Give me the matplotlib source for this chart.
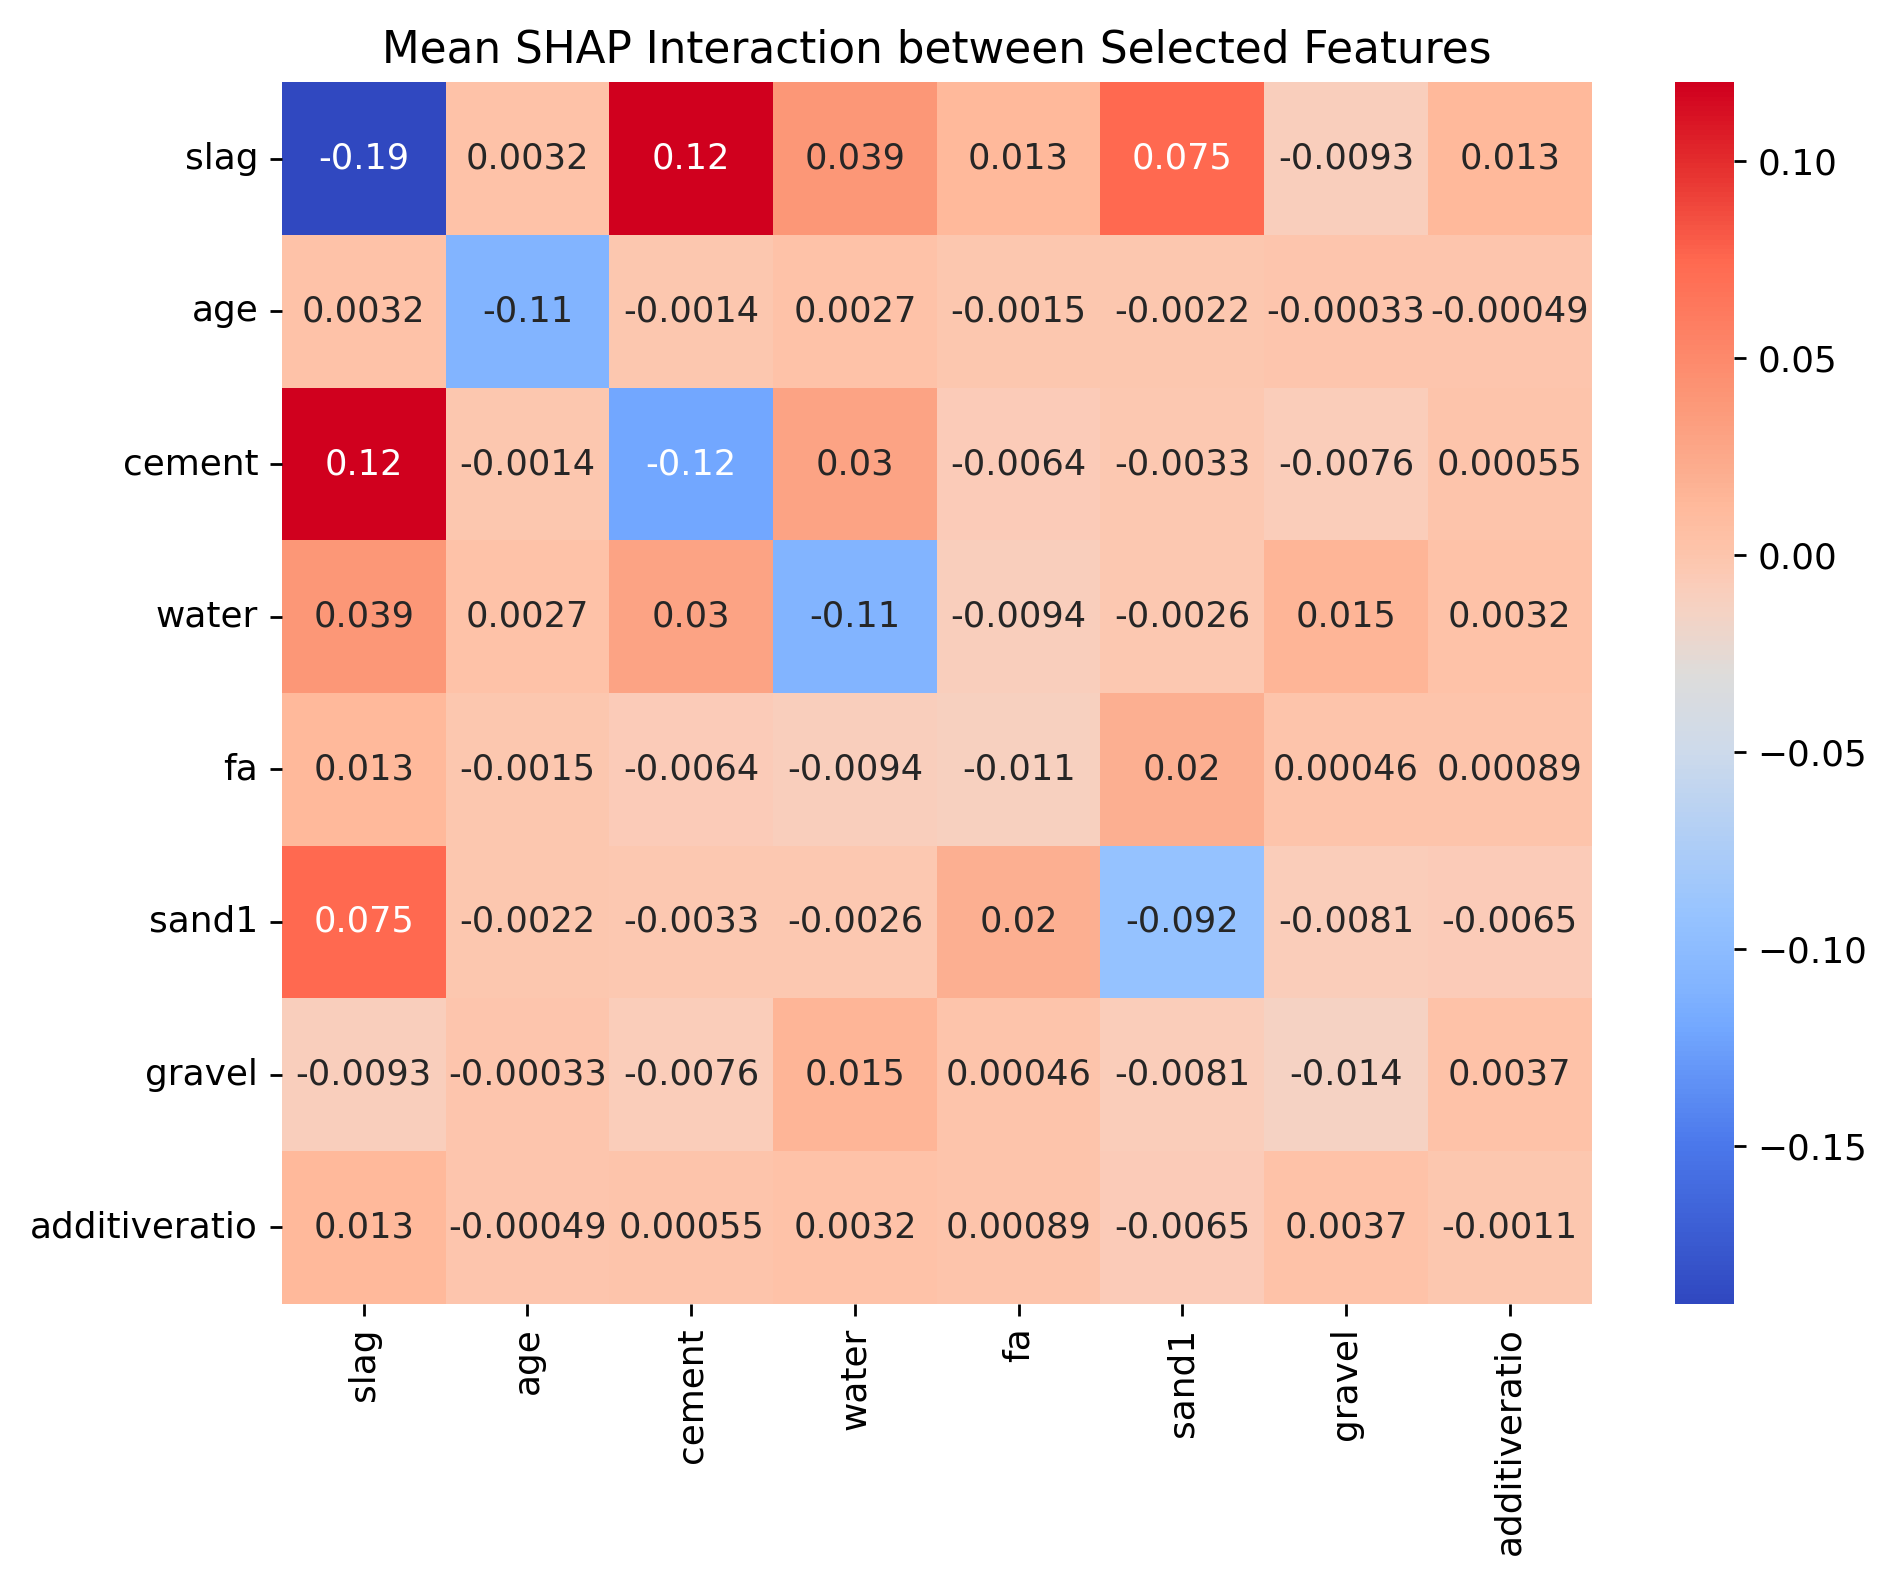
import matplotlib
matplotlib.use("Agg")
import matplotlib.pyplot as plt
from matplotlib.colors import LinearSegmentedColormap
import numpy as np
import pandas as pd
import seaborn as sns

features = ["slag", "age", "cement", "water", "fa", "sand1", "gravel", "additiveratio"]

slag = [-0.19, 0.0032, 0.12, 0.039, 0.013, 0.075, -0.0093, 0.013]
age = [0.0032, -0.11, -0.0014, 0.0027, -0.0015, -0.0022, -0.00033, -0.00049]
cement = [0.12, -0.0014, -0.12, 0.03, -0.0064, -0.0033, -0.0076, 0.00055]
water = [0.039, 0.0027, 0.03, -0.11, -0.0094, -0.0026, 0.015, 0.0032]
fa = [0.013, -0.0015, -0.0064, -0.0094, -0.011, 0.02, 0.00046, 0.00089]
sand1 = [0.075, -0.0022, -0.0033, -0.0026, 0.02, -0.092, -0.0081, -0.0065]
gravel = [-0.0093, -0.00033, -0.0076, 0.015, 0.00046, -0.0081, -0.014, 0.0037]
additiveratio = [0.013, -0.00049, 0.00055, 0.0032, 0.00089, -0.0065, 0.0037, -0.0011]

df = pd.DataFrame([slag, age, cement, water, fa, sand1, gravel, additiveratio],
                  index=features, columns=features)

# coolwarm-like map, but with the stronger colours seen in the picture
vmin, vmax = -0.19, 0.12
anchors = [
    (-0.19, (48, 72, 192)),
    (-0.15, (75, 120, 235)),
    (-0.12, (115, 168, 255)),
    (-0.11, (130, 180, 255)),
    (-0.092, (150, 195, 255)),
    (-0.05, (205, 218, 235)),
    (-0.03, (222, 220, 218)),
    (-0.014, (245, 210, 195)),
    (-0.008, (250, 205, 187)),
    (0.0, (253, 197, 172)),
    (0.013, (255, 185, 155)),
    (0.02, (252, 175, 145)),
    (0.039, (252, 152, 120)),
    (0.075, (255, 105, 80)),
    (0.10, (228, 45, 45)),
    (0.12, (208, 0, 30)),
]
cmap = LinearSegmentedColormap.from_list(
    "cw", [((v - vmin) / (vmax - vmin), tuple(c / 255 for c in rgb)) for v, rgb in anchors])

fs = 25.8
plt.rcParams['font.size'] = fs
plt.rcParams['xtick.major.size'] = 8.6
plt.rcParams['ytick.major.size'] = 8.6
plt.rcParams['xtick.major.width'] = 2
plt.rcParams['ytick.major.width'] = 2
plt.rcParams['xtick.major.pad'] = 8.5
plt.rcParams['ytick.major.pad'] = 8.5

fig = plt.figure(figsize=(18.97, 15.84), dpi=100)
ax = fig.add_axes([0.1486, 0.177, 0.839 - 0.1486, 0.948 - 0.177])
cax = fig.add_axes([0.883, 0.177, 0.914 - 0.883, 0.948 - 0.177])

sns.heatmap(df, ax=ax, cbar_ax=cax, annot=True, cmap=cmap, vmin=vmin, vmax=vmax,
            annot_kws={"size": 25.3})
ax.set_title("Mean SHAP Interaction between Selected Features", fontsize=31.5, pad=14)
ax.set_xticklabels(features, rotation=90)
ax.set_yticklabels(features, rotation=0)
cax.tick_params(labelsize=fs)

fig.savefig("out.png", dpi=100)
